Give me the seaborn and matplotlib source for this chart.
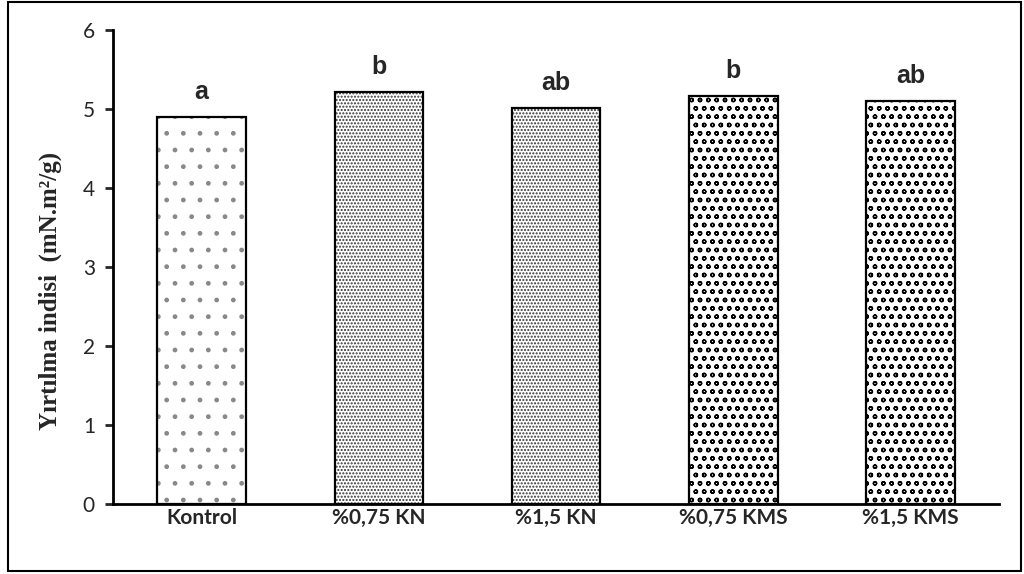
import matplotlib
matplotlib.use("Agg")
import matplotlib.pyplot as plt
import seaborn as sns
import pandas as pd
from matplotlib.patches import Rectangle

# Tear index per treatment with significance letters
treatments = ["Kontrol", "%0,75 KN", "%1,5 KN", "%0,75 KMS", "%1,5 KMS"]
tear_index = [4.90, 5.21, 5.01, 5.16, 5.10]
letters = ["a", "b", "ab", "b", "ab"]
y_ticks = [0, 1, 2, 3, 4, 5, 6]

df = pd.DataFrame({"treatment": treatments, "value": tear_index})

sns.set_style("white")

fig = plt.figure(figsize=(10.24, 5.74), dpi=100)
ax = fig.add_axes([0.1104, 0.122, 0.8652, 0.8258])

sns.barplot(data=df, x="treatment", y="value", ax=ax, color="white",
            edgecolor="black", linewidth=0, width=0.5, saturation=1)


def with_hatch_width(draw, lw):
    # Agg reads the hatch line width from rcParams while drawing
    def _draw(renderer):
        with plt.rc_context({"hatch.linewidth": lw}):
            draw(renderer)
    return _draw


# fill pattern: (hatch, hatch colour, hatch line width)
patterns = [(".", "#888888", 0.6),
            (".....", "#333333", 1.0),
            (".....", "#333333", 1.0),
            ("oo", "black", 2.6),
            ("oo", "black", 2.6)]
for patch, (h, hc, hlw) in zip(list(ax.patches), patterns):
    patch.set_hatch(h)
    patch.set_facecolor("white")
    patch.set_edgecolor(hc)
    patch.set_linewidth(0)
    patch.draw = with_hatch_width(patch.draw, hlw)
    # black outline on top of the patterned fill
    ax.add_patch(Rectangle(patch.get_xy(), patch.get_width(), patch.get_height(),
                           fill=False, edgecolor="black", linewidth=1.6, zorder=3))

for i, (v, lab) in enumerate(zip(tear_index, letters)):
    ax.annotate(lab, (i, v), xytext=(0, 13), textcoords="offset points",
                ha="center", va="baseline", fontsize=18, fontweight="bold",
                family="Liberation Sans")

ax.set_ylim(0, 6)
ax.set_xlim(-0.5, 4.5)
ax.set_yticks(y_ticks)
ax.set_yticklabels([str(t) for t in y_ticks], family="Lato", fontsize=15)
ax.set_xticks(range(len(treatments)))
ax.set_xticklabels(treatments, family="Lato", fontweight="bold", fontsize=15)
ax.tick_params(axis="y", direction="out", length=6, width=2, pad=7, left=True)
ax.tick_params(axis="x", length=0, pad=3)

for side in ["top", "right"]:
    ax.spines[side].set_visible(False)
for side in ["left", "bottom"]:
    ax.spines[side].set_linewidth(2)
    ax.spines[side].set_color("black")
    ax.spines[side].set_zorder(4)

ax.set_xlabel("")
ax.set_ylabel("Yırtılma indisi  (mN.m²/g)", family="Liberation Serif",
              fontweight="bold", fontsize=18)
ax.yaxis.set_label_coords(-0.058, 0.45)

# Outer frame around the whole figure
fig.patches.append(Rectangle((0.008, 0.005), 0.989, 0.992, transform=fig.transFigure,
                             fill=False, edgecolor="black", linewidth=1.5))

fig.savefig("out.png", dpi=100)
